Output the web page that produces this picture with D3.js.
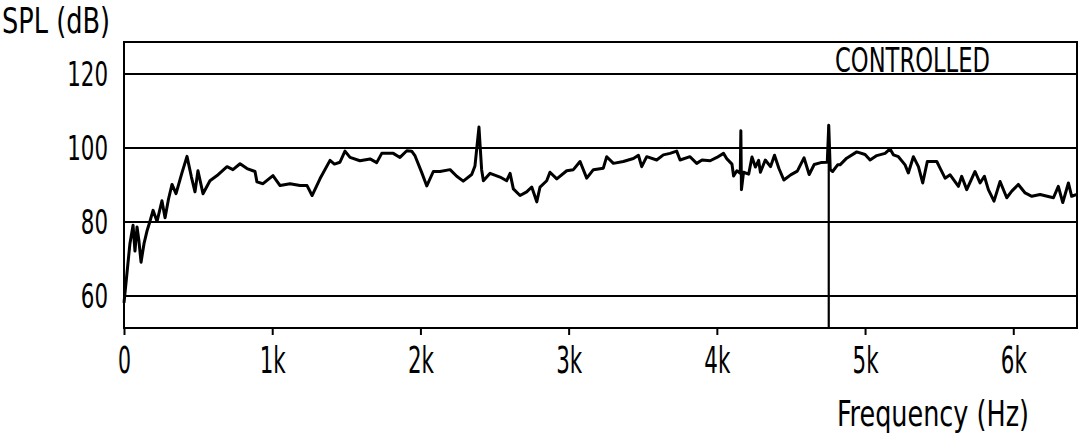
<!DOCTYPE html>
<html>
<head>
<meta charset="utf-8">
<script src="https://cdn.jsdelivr.net/npm/d3@7"></script>
<style>
  html, body { margin: 0; padding: 0; background: #fff; }
  svg { display: block; }
  text { font-family: "Liberation Sans Narrow", "DejaVu Sans Condensed", "Liberation Sans", sans-serif; fill: #000; }
</style>
</head>
<body>
<svg id="chart" width="1082" height="439"></svg>
<script>
// ---- data ----
const freqHz = [
  0, 20, 40, 61, 74, 88, 100, 115, 135, 155, 175, 196, 223, 256, 277, 300, 324, 351, 390, 425,
  455, 479, 499, 533, 580, 628, 695, 735, 783, 830, 884, 897, 938, 1005, 1053, 1120, 1188, 1235, 1269, 1323,
  1390, 1420, 1457, 1491, 1525, 1592, 1660, 1705, 1739, 1817, 1862, 1908, 1941, 1964, 2009, 2043, 2087, 2132, 2200, 2245,
  2289, 2346, 2368, 2395, 2405, 2413, 2425, 2470, 2537, 2582, 2605, 2627, 2672, 2717, 2751, 2785, 2807, 2852, 2874, 2920,
  2987, 3032, 3077, 3122, 3167, 3234, 3257, 3302, 3369, 3437, 3471, 3493, 3527, 3594, 3639, 3684, 3729, 3752, 3819, 3864,
  3900, 3955, 4000, 4045, 4068, 4102, 4113, 4135, 4158, 4162, 4166, 4180, 4215, 4237, 4260, 4282, 4294, 4327, 4362, 4389,
  4419, 4452, 4498, 4543, 4588, 4623, 4657, 4702, 4745, 4755, 4765, 4781, 4815, 4831, 4876, 4944, 5000, 5034, 5079, 5135,
  5169, 5191, 5225, 5270, 5292, 5326, 5360, 5389, 5420, 5484, 5506, 5540, 5574, 5630, 5652, 5686, 5742, 5776, 5805, 5832,
  5870, 5911, 5956, 5990, 6034, 6080, 6125, 6181, 6271, 6304, 6334, 6372, 6394, 6430
];
const splDb = [
  58, 66, 74, 79, 72, 78.5, 75, 69, 74, 77.4, 80, 83, 80, 85.6, 81, 86, 90, 87.5, 93, 97.6,
  92, 88, 93.7, 87.5, 91, 92.4, 94.8, 94, 95.6, 94.3, 93.5, 90.7, 90.2, 92.4, 89.7, 90.2, 89.7, 89.7, 87, 91.6,
  96.5, 95.5, 96, 99, 97.3, 96.4, 96.9, 95.9, 98.4, 98.4, 97.3, 99.1, 99, 97.7, 93.2, 89.6, 93.5, 93.5, 94, 92.2,
  90.9, 92.7, 95, 105.5, 99, 94, 91, 93, 92, 91, 93, 88.8, 87, 88, 89.3, 85.3, 89.3, 91, 93.3, 91.5,
  93.7, 94, 96.2, 91.7, 94, 94.4, 97.5, 95.7, 96.2, 97, 97.9, 94.8, 97.5, 96.6, 98, 98.4, 99, 96.6, 97.5, 95.7,
  96.6, 96.4, 97.3, 98.4, 96.9, 95.5, 92.3, 93.7, 93, 104.5, 88.6, 93.3, 92.8, 97.4, 94.7, 96.5, 93.3, 96.6, 94.8, 97.9,
  94.3, 91.2, 92.6, 93.6, 97.2, 92.7, 95.4, 95.9, 96, 106, 94, 93.5, 95.3, 95.3, 97.1, 98.8, 98.1, 96.6, 97.8, 98.4,
  99.6, 98, 97.5, 95.3, 93.1, 97.5, 94.8, 90.4, 96.2, 96.2, 94.4, 91.7, 92.6, 89.5, 92.2, 88.6, 93.5, 90.4, 92.2, 88.6,
  85.5, 90.8, 86.4, 88.2, 90, 87.7, 86.8, 87.3, 86.4, 89.5, 85.1, 90.4, 86.8, 87.3
];
const markerHz = [4755];
const markerTopDb = [106];
const xTicks = [0, 1000, 2000, 3000, 4000, 5000, 6000];
const xTickLabels = ["0", "1k", "2k", "3k", "4k", "5k", "6k"];
const yTicks = [60, 80, 100, 120];
const yTickLabels = ["60", "80", "100", "120"];
const xDomain = [0, 6430];
const yDomain = [51.2, 128.5];
const yTitle = "SPL (dB)";
const xTitle = "Frequency (Hz)";
const seriesLabel = "CONTROLLED";

// ---- layout ----
const svg = d3.select("#chart");
const L = 124, R = 1077, T = 42, B = 328;
const x = d3.scaleLinear().domain(xDomain).range([L, R]);
const y = d3.scaleLinear().domain(yDomain).range([B, T]);
const FONT = '"Liberation Sans Narrow", "DejaVu Sans Condensed", sans-serif';

svg.append("rect").attr("width", 1082).attr("height", 439).attr("fill", "#fff");

// gridlines
const grid = svg.append("g").attr("transform", `translate(${L},0)`)
  .call(d3.axisLeft(y).tickValues(yTicks).tickSize(-(R - L)).tickFormat(""));
grid.select(".domain").remove();
grid.selectAll(".tick line").attr("stroke", "#000").attr("stroke-width", 2);

// y labels
const yAx = svg.append("g").attr("transform", `translate(${L},0)`)
  .call(d3.axisLeft(y).tickValues(yTicks).tickSize(0).tickPadding(16)
    .tickFormat((d, i) => yTickLabels[i]));
yAx.select(".domain").remove();
yAx.selectAll(".tick text")
  .attr("font-size", 33)
  .attr("dy", "0.36em")
  .style("font-family", FONT)
  .attr("textLength", d => String(d).length * 13.6)
  .attr("lengthAdjust", "spacingAndGlyphs");

// x axis
const xAx = svg.append("g").attr("transform", `translate(0,${B})`)
  .call(d3.axisBottom(x).tickValues(xTicks).tickSize(7).tickFormat((d, i) => xTickLabels[i]));
xAx.select(".domain").remove();
xAx.selectAll(".tick line").attr("stroke", "#000").attr("stroke-width", 2);
xAx.selectAll(".tick text")
  .attr("font-size", 38)
  .attr("y", 45).attr("dy", 0)
  .style("font-family", FONT)
  .attr("textLength", (d, i) => xTickLabels[i].length === 1 ? 13 : 26)
  .attr("lengthAdjust", "spacingAndGlyphs");

// frame
svg.append("rect")
  .attr("x", L).attr("y", T).attr("width", R - L).attr("height", B - T)
  .attr("fill", "none").attr("stroke", "#000").attr("stroke-width", 2);

// marker line
svg.selectAll("line.marker").data(markerHz).join("line")
  .attr("class", "marker")
  .attr("x1", d => x(d)).attr("x2", d => x(d))
  .attr("y1", (d, i) => y(markerTopDb[i])).attr("y2", B)
  .attr("stroke", "#000").attr("stroke-width", 2.2);

// curve
const pts = freqHz.map((f, i) => [f, splDb[i]]);
svg.append("path")
  .datum(pts)
  .attr("fill", "none")
  .attr("stroke", "#000")
  .attr("stroke-width", 3)
  .attr("stroke-linejoin", "round")
  .attr("d", d3.line().x(d => x(d[0])).y(d => y(d[1])));

// titles
svg.append("text").attr("x", 2).attr("y", 33)
  .attr("font-size", 36).attr("textLength", 108).attr("lengthAdjust", "spacingAndGlyphs")
  .text(yTitle);
svg.append("text").attr("x", 837).attr("y", 426)
  .attr("font-size", 35).attr("textLength", 192).attr("lengthAdjust", "spacingAndGlyphs")
  .text(xTitle);
svg.append("text").attr("x", 835).attr("y", 72)
  .attr("font-size", 33).attr("textLength", 155).attr("lengthAdjust", "spacingAndGlyphs")
  .text(seriesLabel);
</script>
</body>
</html>
